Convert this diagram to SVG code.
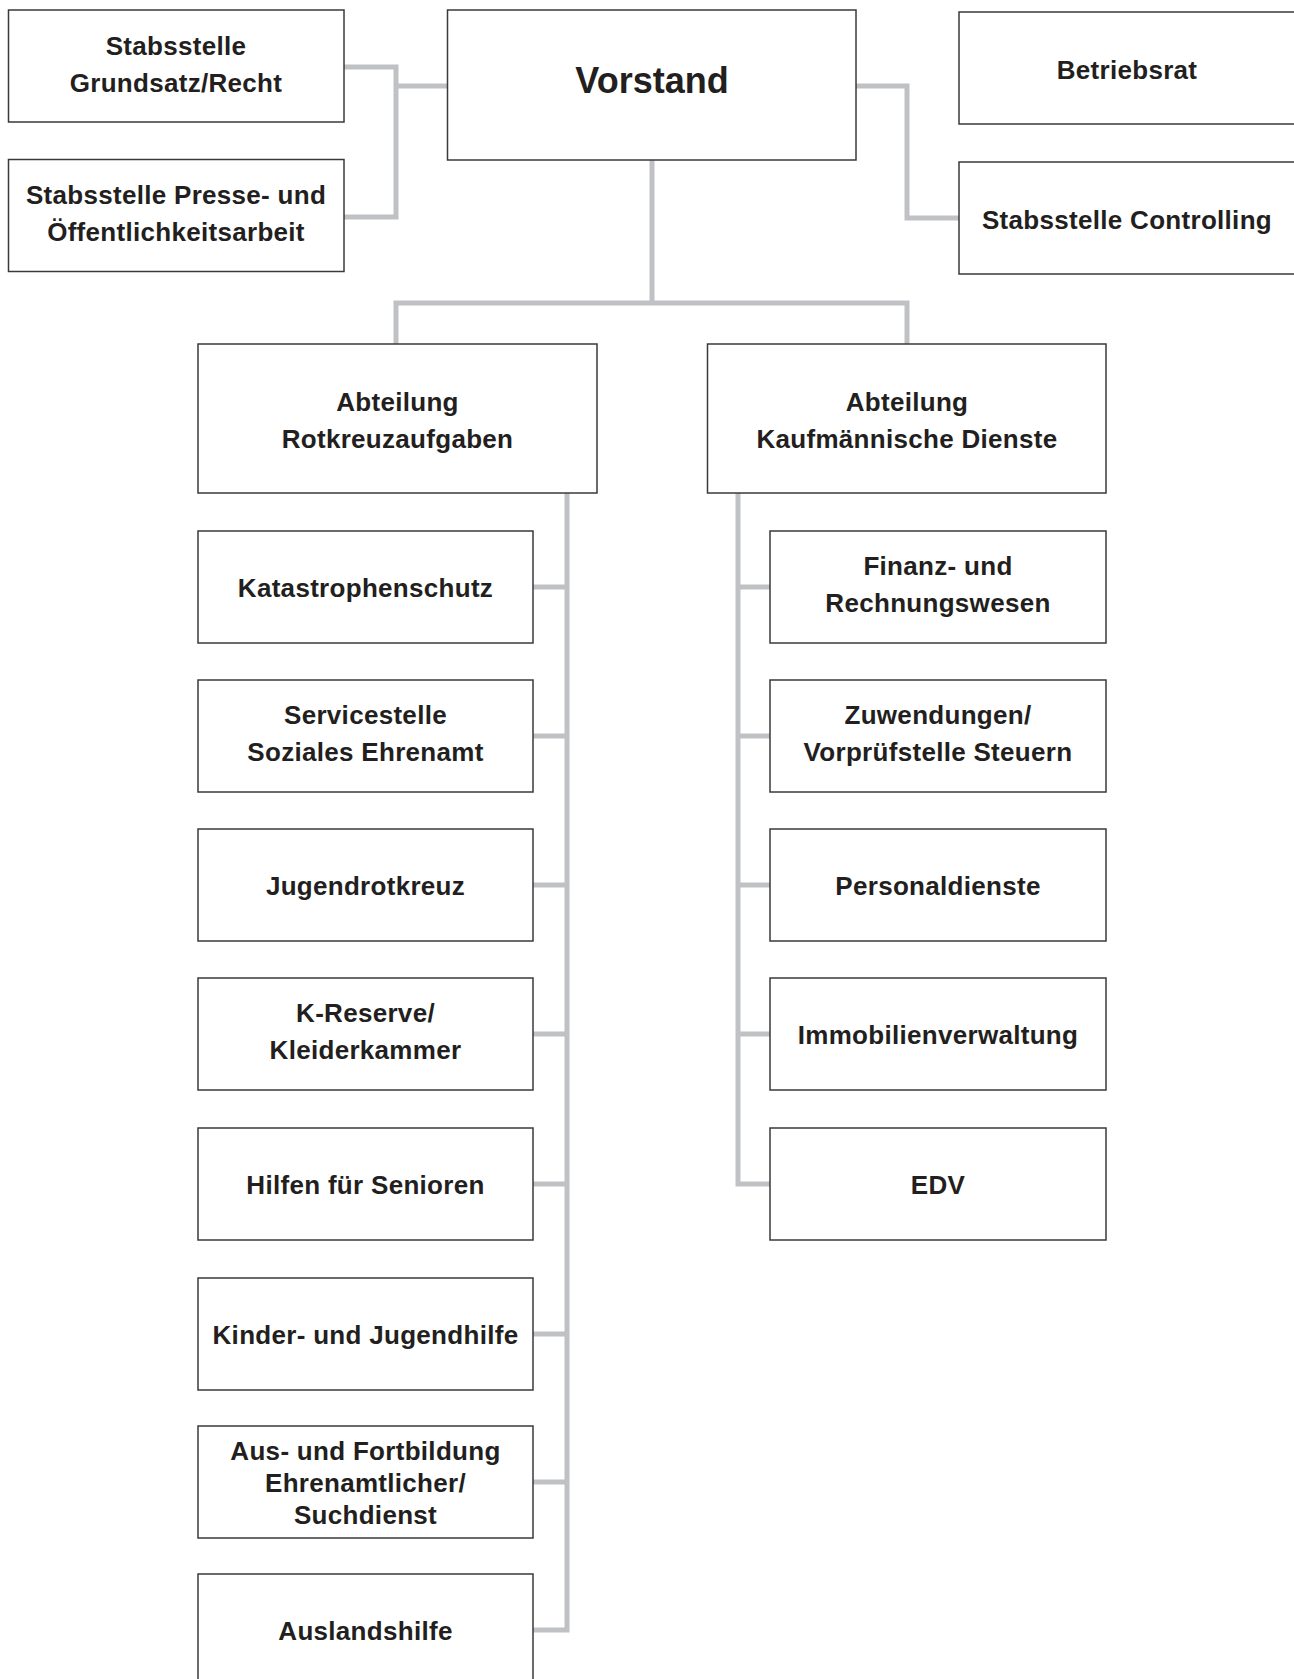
<svg xmlns="http://www.w3.org/2000/svg" width="1294" height="1679" viewBox="0 0 1294 1679">
<style>
.box{fill:#fff;stroke:#3a3a3a;stroke-width:1.5}
.t{font-family:"Liberation Sans",Arial,sans-serif;font-weight:bold;font-size:26px;fill:#231f20;text-anchor:middle;letter-spacing:0.3px}
.big{font-size:36px;letter-spacing:0}
.c{fill:none;stroke:#c0c1c4;stroke-width:5}
</style>
<rect width="1294" height="1679" fill="#fff"/>
<g id="connectors">
<path class="c" d="M344 67H396V217H344M396 86H447"/>
<path class="c" d="M856 86H907V218H959"/>
<path class="c" d="M652 160V303M396 344V303H907V344"/>
<path class="c" d="M567 493V1630H533M533 587H567M533 736H567M533 885H567M533 1034H567M533 1184H567M533 1334H567M533 1482H567"/>
<path class="c" d="M738 493V1184H770M738 587H770M738 736H770M738 885H770M738 1034H770"/>
</g>
<g id="n-grundsatz"><rect class="box" x="8.5" y="10" width="335.5" height="112"/><text class="t" x="176" y="55">Stabsstelle</text><text class="t" x="176" y="92">Grundsatz/Recht</text></g>
<g id="n-presse"><rect class="box" x="8.5" y="159.5" width="335.5" height="112"/><text class="t" x="176" y="204">Stabsstelle Presse- und</text><text class="t" x="176" y="241">Öffentlichkeitsarbeit</text></g>
<g id="n-vorstand"><rect class="box" x="447.5" y="10" width="408.5" height="150"/><text class="t big" x="652" y="93">Vorstand</text></g>
<g id="n-betriebsrat"><rect class="box" x="959" y="12" width="340" height="112"/><text class="t" x="1127" y="79">Betriebsrat</text></g>
<g id="n-controlling"><rect class="box" x="959" y="162" width="340" height="112"/><text class="t" x="1127" y="229">Stabsstelle Controlling</text></g>
<g id="n-rotkreuz"><rect class="box" x="198" y="344" width="399" height="149"/><text class="t" x="397.5" y="411">Abteilung</text><text class="t" x="397.5" y="448">Rotkreuzaufgaben</text></g>
<g id="n-kaufm"><rect class="box" x="707.5" y="344" width="398.5" height="149"/><text class="t" x="907" y="411">Abteilung</text><text class="t" x="907" y="448">Kaufmännische Dienste</text></g>
<g id="n-kat"><rect class="box" x="198" y="531" width="335" height="112"/><text class="t" x="365.5" y="597">Katastrophenschutz</text></g>
<g id="n-service"><rect class="box" x="198" y="680" width="335" height="112"/><text class="t" x="365.5" y="724">Servicestelle</text><text class="t" x="365.5" y="761">Soziales Ehrenamt</text></g>
<g id="n-jrk"><rect class="box" x="198" y="829" width="335" height="112"/><text class="t" x="365.5" y="895">Jugendrotkreuz</text></g>
<g id="n-kres"><rect class="box" x="198" y="978" width="335" height="112"/><text class="t" x="365.5" y="1022">K-Reserve/</text><text class="t" x="365.5" y="1059">Kleiderkammer</text></g>
<g id="n-senioren"><rect class="box" x="198" y="1128" width="335" height="112"/><text class="t" x="365.5" y="1194">Hilfen für Senioren</text></g>
<g id="n-kinder"><rect class="box" x="198" y="1278" width="335" height="112"/><text class="t" x="365.5" y="1344">Kinder- und Jugendhilfe</text></g>
<g id="n-aus"><rect class="box" x="198" y="1426" width="335" height="112"/><text class="t" x="365.5" y="1460">Aus- und Fortbildung</text><text class="t" x="365.5" y="1492">Ehrenamtlicher/</text><text class="t" x="365.5" y="1524">Suchdienst</text></g>
<g id="n-ausland"><rect class="box" x="198" y="1574" width="335" height="112"/><text class="t" x="365.5" y="1640">Auslandshilfe</text></g>
<g id="n-finanz"><rect class="box" x="770" y="531" width="336" height="112"/><text class="t" x="938" y="575">Finanz- und</text><text class="t" x="938" y="612">Rechnungswesen</text></g>
<g id="n-zuw"><rect class="box" x="770" y="680" width="336" height="112"/><text class="t" x="938" y="724">Zuwendungen/</text><text class="t" x="938" y="761">Vorprüfstelle Steuern</text></g>
<g id="n-personal"><rect class="box" x="770" y="829" width="336" height="112"/><text class="t" x="938" y="895">Personaldienste</text></g>
<g id="n-immo"><rect class="box" x="770" y="978" width="336" height="112"/><text class="t" x="938" y="1044">Immobilienverwaltung</text></g>
<g id="n-edv"><rect class="box" x="770" y="1128" width="336" height="112"/><text class="t" x="938" y="1194">EDV</text></g>
</svg>
